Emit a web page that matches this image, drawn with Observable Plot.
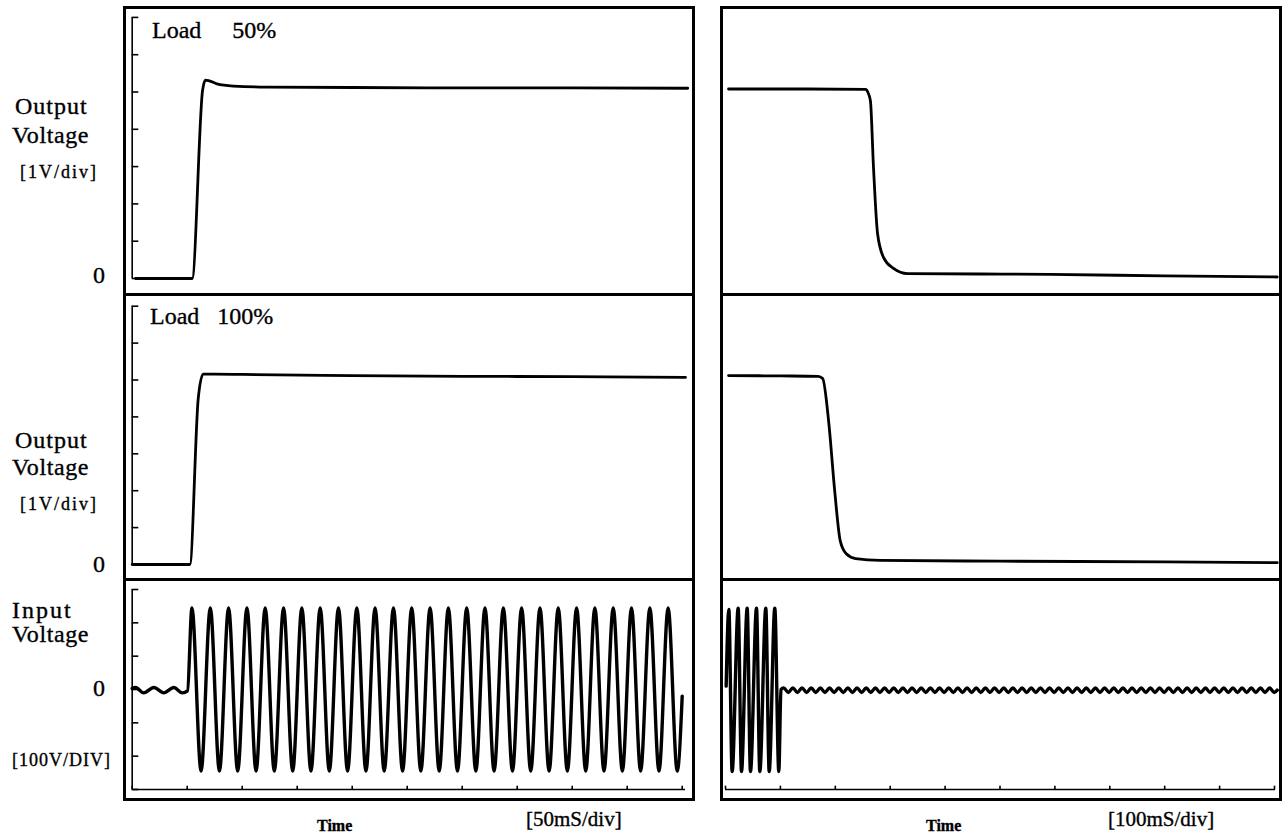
<!DOCTYPE html>
<html><head><meta charset="utf-8">
<script src="https://cdn.jsdelivr.net/npm/d3@7"></script>
<script src="https://cdn.jsdelivr.net/npm/@observablehq/plot@0.6"></script>
<style>
body{margin:0;background:#fff;}
#root{position:relative;width:1284px;height:838px;overflow:hidden;font-family:"Liberation Serif","DejaVu Serif",serif;color:#000;background:#fff;}
.frame{position:absolute;border:3px solid #000;box-sizing:border-box;}
.bar{position:absolute;height:3px;background:#000;}
.lbl{position:absolute;white-space:pre;-webkit-text-stroke:0.35px #000;}
</style></head><body><div id="root"></div>
<script>
// ---------------- DATA ----------------
// Output voltage (V), time (ms) — Load 50%, start-up (50 ms/div)
const load50T = [3, 54.5, 64, 66.5, 70, 77, 92, 123, 200, 300, 400, 505];
const load50V = [0, 0, 5.05, 5.32, 5.30, 5.22, 5.16, 5.13, 5.12, 5.11, 5.11, 5.10];
// Output voltage — Load 100%, start-up (50 ms/div)
const load100T = [0, 52.4, 60, 64.5, 75, 100, 200, 300, 400, 503];
const load100V = [0, 0, 4.49, 5.16, 5.16, 5.15, 5.12, 5.10, 5.09, 5.07];
// Output voltage — Load 50%, shut-down (100 ms/div)
const off50T = [5.5, 150, 255, 260.5, 264, 269.6, 277, 288, 306, 331.5, 465, 592, 800, 1005];
const off50V = [5.08, 5.08, 5.07, 4.95, 4.76, 2.97, 1.2, 0.56, 0.27, 0.13, 0.12, 0.11, 0.07, 0.04];
// Output voltage — Load 100%, shut-down (100 ms/div)
const off100T = [5.5, 100, 169, 177, 188, 199, 209, 220, 237, 282, 500, 800, 1005];
const off100V = [5.12, 5.11, 5.10, 5.04, 3.86, 1.98, 0.64, 0.29, 0.16, 0.11, 0.09, 0.07, 0.05];
// Input voltage (V), start-up, 50 ms/div (extrema as read)
const inOnT = [0, 3, 10.5, 19.7, 28.7, 37.9, 45.5, 50.3,
  54.3, 62.6, 71, 79.3, 87.6, 95.9, 104.3, 112.6, 120.9, 129.2,
  137.6, 145.9, 154.2, 162.5, 170.9, 179.2, 187.5, 195.8, 204.2, 212.5,
  220.8, 229.1, 237.5, 245.8, 254.1, 262.4, 270.8, 279.1, 287.4, 295.7,
  304.1, 312.4, 320.7, 329, 337.4, 345.7, 354, 362.3, 370.7, 379,
  387.3, 395.6, 404, 412.3, 420.6, 428.9, 437.3, 445.6, 453.9, 462.2,
  470.6, 478.9, 487.2, 495.5, 500];
const inOnV = [3, 6, -10, 6, -10, 6, -10, -4,
  245,-245,245,-245,245,-245,245,-245,245,-245,
  245,-245,245,-245,245,-245,245,-245,245,-245,
  245,-245,245,-245,245,-245,245,-245,245,-245,
  245,-245,245,-245,245,-245,245,-245,245,-245,
  245,-245,245,-245,245,-245,245,-245,245,-245,
  245,-245,245,-245, -20];
// Input voltage, shut-down, 100 ms/div (extrema as read)
const inOffT = [1.2, 6.1, 12.1, 23.1, 29.1, 39.5, 45.5, 56.5, 62.5, 73.4, 79.6, 89.8, 97.1, 101,
  106, 114.4, 122.7, 131, 139.4, 147.7, 156.1, 164.4, 172.8, 181.1,
  189.5, 197.8, 206.2, 214.5, 222.9, 231.2, 239.6, 247.9, 256.3, 264.6,
  273, 281.3, 289.7, 298, 306.4, 314.7, 323.1, 331.4, 339.8, 348.1,
  356.5, 364.8, 373.2, 381.5, 389.9, 398.2, 406.6, 414.9, 423.3, 431.6,
  440, 448.3, 456.7, 465, 473.4, 481.7, 490.1, 498.4, 506.8, 515.1,
  523.5, 531.8, 540.2, 548.5, 556.9, 565.2, 573.6, 581.9, 590.3, 598.6,
  607, 615.3, 623.7, 632, 640.4, 648.7, 657.1, 665.4, 673.8, 682.1,
  690.5, 698.8, 707.2, 715.5, 723.9, 732.2, 740.6, 748.9, 757.3, 765.6,
  774, 782.3, 790.7, 799, 807.4, 815.7, 824.1, 832.4, 840.8, 849.1,
  857.5, 865.8, 874.2, 882.5, 890.9, 899.2, 907.6, 915.9, 924.3, 932.6,
  941, 949.3, 957.7, 966, 974.4, 982.7, 991.1, 999.4,
  1005];
const inOffV = [10, 240, -246, 244, -246, 244, -246, 244, -246, 244, -246, 244, -246, 0,
  5,-9,5,-9,5,-9,5,-9,5,-9,
  5,-9,5,-9,5,-9,5,-9,5,-9,
  5,-9,5,-9,5,-9,5,-9,5,-9,
  5,-9,5,-9,5,-9,5,-9,5,-9,
  5,-9,5,-9,5,-9,5,-9,5,-9,
  5,-9,5,-9,5,-9,5,-9,5,-9,
  5,-9,5,-9,5,-9,5,-9,5,-9,
  5,-9,5,-9,5,-9,5,-9,5,-9,
  5,-9,5,-9,5,-9,5,-9,5,-9,
  5,-9,5,-9,5,-9,5,-9,5,-9,
  5,-9,5,-9,5,-9,5,-9,
  -2];
// Tick values
const outTicks = [0, 1, 2, 3, 4, 5, 6, 7];          // 1 V/div
const inTicks = [-300, -200, -100, 0, 100, 200, 300]; // 100 V/div
const timeTicksOn = [0, 50, 100, 150, 200, 250, 300, 350, 400, 450, 500];
const timeTicksOff = [0, 100, 200, 300, 400, 500, 600, 700, 800, 900, 1000];
// Texts
const loadWord = "Load";
const loadLevels = ["50%", "100%"];
const outLabel = ["Output", "Voltage", "[1V/div]"];
const inLabel = ["Input", "Voltage", "[100V/DIV]"];
const zeroLabel = "0";
const timeLabel = "Time";
const timeDivs = ["[50mS/div]", "[100mS/div]"];

// ---------------- LAYOUT ----------------
const root = document.getElementById("root");
const rows = (T, V) => T.map((t, i) => ({t, v: V[i]}));

function box(cls, css) {
  const d = document.createElement("div");
  d.className = cls;
  Object.assign(d.style, css);
  root.appendChild(d);
  return d;
}
function label(text, left, cy, size, extra = {}) {
  const d = box("lbl", {left: left + "px", top: (cy - size * 0.506) + "px",
    fontSize: size + "px", lineHeight: size + "px", ...extra});
  d.textContent = text;
  return d;
}

// frames
box("frame", {left: "123px", top: "6px", width: "572px", height: "795px"});
box("frame", {left: "720px", top: "6px", width: "562px", height: "795px"});
box("bar", {left: "123px", width: "572px", top: "292.5px"});
box("bar", {left: "123px", width: "572px", top: "577.5px"});
box("bar", {left: "720px", width: "562px", top: "292.5px"});
box("bar", {left: "720px", width: "562px", top: "577.5px"});

// column / row geometry (page px)
const cols = {
  on:  {left: 127, width: 564, mL: 4.7, mR: 9.3, domain: [0, 500]},
  off: {left: 724, width: 554, mL: 1, mR: 4, domain: [0, 1000]}
};
const rowsG = {
  top: {top: 9, height: 284, mT: 7.9, mB: 15, domain: [0, 7]},
  mid: {top: 296, height: 282, mT: 9.7, mB: 14, domain: [0, 7]},
  bot: {top: 581, height: 215, mT: 8, mB: 7, domain: [-300, 300]}
};

function panel(col, row, marks) {
  const c = cols[col], r = rowsG[row];
  const svg = Plot.plot({
    width: c.width, height: r.height,
    marginLeft: c.mL, marginRight: c.mR, marginTop: r.mT, marginBottom: r.mB,
    x: {domain: c.domain, axis: null},
    y: {domain: r.domain, axis: null},
    style: {background: "transparent", overflow: "visible"},
    marks
  });
  svg.style.position = "absolute";
  svg.style.left = c.left + "px";
  svg.style.top = r.top + "px";
  root.appendChild(svg);
}

const outAxis = () => [
  Plot.ruleX([0], {y1: 0, y2: 7, stroke: "#000", strokeWidth: 1.6}),
  Plot.ruleY(outTicks, {x1: 0, x2: 6, stroke: "#000", strokeWidth: 1.6})
];
const trace = (T, V, w = 2.8) => Plot.line(rows(T, V), {x: "t", y: "v", curve: "monotone-x", stroke: "#000", strokeWidth: w});

panel("on", "top", [...outAxis(), trace(load50T, load50V)]);
panel("on", "mid", [...outAxis(), trace(load100T, load100V)]);
panel("on", "bot", [
  Plot.ruleX([0], {y1: -300, y2: 300, stroke: "#000", strokeWidth: 1.6}),
  Plot.ruleY(inTicks, {x1: 0, x2: 6, stroke: "#000", strokeWidth: 1.6}),
  Plot.ruleY([-300], {x1: 0, x2: 503, stroke: "#000", strokeWidth: 1.6}),
  Plot.ruleX(timeTicksOn, {y1: -300, y2: -290, stroke: "#000", strokeWidth: 1.6}),
  trace(inOnT, inOnV, 3.4)
]);
panel("off", "top", [trace(off50T, off50V)]);
panel("off", "mid", [trace(off100T, off100V)]);
panel("off", "bot", [
  Plot.ruleY([-300], {x1: 0, x2: 1002, stroke: "#000", strokeWidth: 1.6}),
  Plot.ruleX(timeTicksOff, {y1: -300, y2: -290, stroke: "#000", strokeWidth: 1.6}),
  trace(inOffT, inOffV, 3.4)
]);

// Load labels
const l1 = label(loadWord + " ", 152, 30.5, 24);
const s1 = document.createElement("span"); s1.textContent = loadLevels[0]; s1.style.marginLeft = "25px"; l1.appendChild(s1);
const l2 = label(loadWord + " ", 150, 316.5, 24);
const s2 = document.createElement("span"); s2.textContent = loadLevels[1]; s2.style.marginLeft = "12px"; l2.appendChild(s2);

// Left axis labels
label(outLabel[0], 15, 106.5, 24, {letterSpacing: "1px"});
label(outLabel[1], 12, 135.5, 24, {letterSpacing: "0.6px"});
label(outLabel[2], 20, 172.5, 18, {letterSpacing: "2px"});
label(zeroLabel, 93, 275, 24);

label(outLabel[0], 15, 440, 24, {letterSpacing: "1px"});
label(outLabel[1], 12, 467, 24, {letterSpacing: "0.6px"});
label(outLabel[2], 20, 504, 18, {letterSpacing: "2px"});
label(zeroLabel, 93, 564, 24);

label(inLabel[0], 12, 610, 24, {letterSpacing: "2px"});
label(inLabel[1], 12, 634, 24, {letterSpacing: "0.6px"});
label(zeroLabel, 93, 688, 24);
label(inLabel[2], 12, 760, 18, {letterSpacing: "1px"});

// Bottom labels
label(timeLabel, 317, 826, 16, {fontWeight: "bold"});
label(timeDivs[0], 526, 820, 21);
label(timeLabel, 926, 826, 16, {fontWeight: "bold"});
label(timeDivs[1], 1108, 820, 21);
</script></body></html>
